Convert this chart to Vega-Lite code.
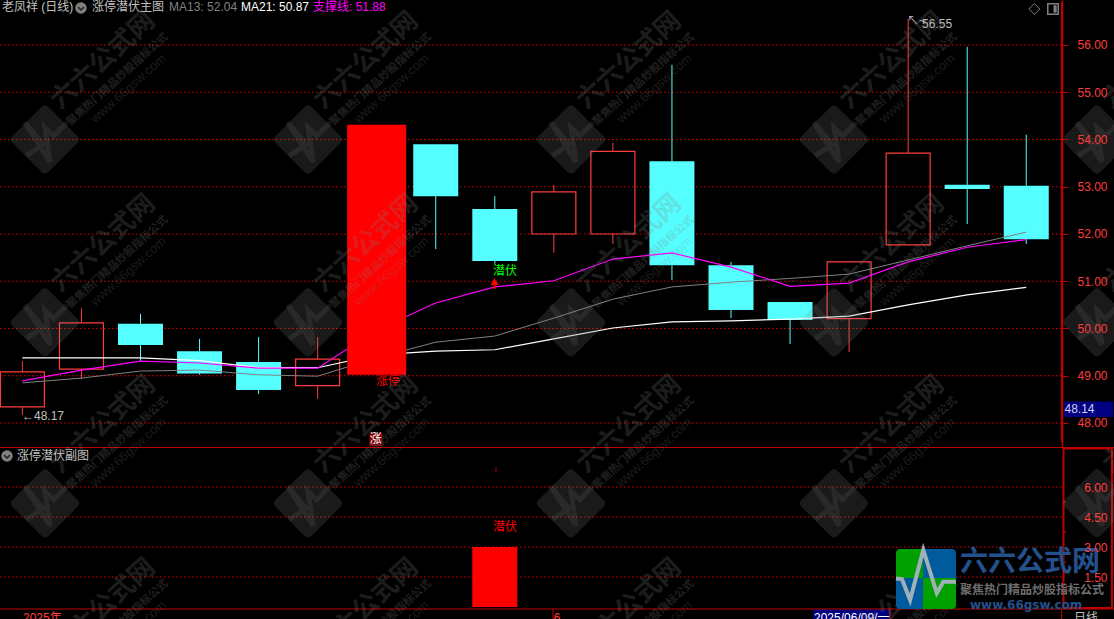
{
"$schema":"https://vega.github.io/schema/vega-lite/v6.json",
"width":1114,"height":619,"padding":0,"autosize":{"type":"none"},
"background":"#000000",
"config":{"view":{"stroke":null},"text":{"font":"Liberation Sans, Noto Sans CJK SC","fontSize":12}},
"datasets":{
"candles":[
{"i":0,"type":"up","top":49.08,"bot":48.34,"high":49.31,"low":48.17},
{"i":1,"type":"up","top":50.12,"bot":49.14,"high":50.43,"low":48.93},
{"i":2,"type":"down","top":50.10,"bot":49.65,"high":50.31,"low":49.31},
{"i":3,"type":"down","top":49.52,"bot":49.05,"high":49.78,"low":49.02},
{"i":4,"type":"down","top":49.29,"bot":48.70,"high":49.82,"low":48.61},
{"i":5,"type":"up","top":49.35,"bot":48.79,"high":49.82,"low":48.51},
{"i":6,"type":"limit","top":54.31,"bot":49.02,"high":54.31,"low":49.02},
{"i":7,"type":"down","top":53.90,"bot":52.80,"high":53.90,"low":51.68},
{"i":8,"type":"down","top":52.53,"bot":51.43,"high":52.80,"low":51.37},
{"i":9,"type":"up","top":52.89,"bot":52.00,"high":53.04,"low":51.60},
{"i":10,"type":"up","top":53.75,"bot":52.00,"high":53.93,"low":51.79},
{"i":11,"type":"down","top":53.54,"bot":51.34,"high":55.58,"low":51.03},
{"i":12,"type":"down","top":51.34,"bot":50.39,"high":51.41,"low":50.22},
{"i":13,"type":"down","top":50.56,"bot":50.18,"high":50.56,"low":49.67},
{"i":14,"type":"up","top":51.41,"bot":50.21,"high":51.41,"low":49.50},
{"i":15,"type":"up","top":53.71,"bot":51.77,"high":56.55,"low":51.77},
{"i":16,"type":"down","top":53.04,"bot":52.95,"high":55.96,"low":52.21},
{"i":17,"type":"down","top":53.02,"bot":51.89,"high":54.10,"low":51.79}
],
"lines":[
{"i":0,"s":"MA21","p":49.38},{"i":1,"s":"MA21","p":49.38},{"i":2,"s":"MA21","p":49.38},{"i":3,"s":"MA21","p":49.32},{"i":4,"s":"MA21","p":49.17},{"i":5,"s":"MA21","p":49.17},{"i":6,"s":"MA21","p":49.44},{"i":7,"s":"MA21","p":49.52},{"i":8,"s":"MA21","p":49.55},{"i":9,"s":"MA21","p":49.78},{"i":10,"s":"MA21","p":50.01},{"i":11,"s":"MA21","p":50.14},{"i":12,"s":"MA21","p":50.16},{"i":13,"s":"MA21","p":50.20},{"i":14,"s":"MA21","p":50.26},{"i":15,"s":"MA21","p":50.50},{"i":16,"s":"MA21","p":50.71},{"i":17,"s":"MA21","p":50.87},
{"i":0,"s":"MA13","p":48.85},{"i":1,"s":"MA13","p":48.95},{"i":2,"s":"MA13","p":49.10},{"i":3,"s":"MA13","p":49.12},{"i":4,"s":"MA13","p":49.02},{"i":5,"s":"MA13","p":48.99},{"i":6,"s":"MA13","p":49.38},{"i":7,"s":"MA13","p":49.71},{"i":8,"s":"MA13","p":49.84},{"i":9,"s":"MA13","p":50.22},{"i":10,"s":"MA13","p":50.62},{"i":11,"s":"MA13","p":50.88},{"i":12,"s":"MA13","p":50.98},{"i":13,"s":"MA13","p":51.06},{"i":14,"s":"MA13","p":51.15},{"i":15,"s":"MA13","p":51.45},{"i":16,"s":"MA13","p":51.75},{"i":17,"s":"MA13","p":52.04},
{"i":0,"s":"support","p":48.89},{"i":1,"s":"support","p":49.12},{"i":2,"s":"support","p":49.31},{"i":3,"s":"support","p":49.27},{"i":4,"s":"support","p":49.16},{"i":5,"s":"support","p":49.16},{"i":6,"s":"support","p":49.97},{"i":7,"s":"support","p":50.54},{"i":8,"s":"support","p":50.88},{"i":9,"s":"support","p":51.01},{"i":10,"s":"support","p":51.47},{"i":11,"s":"support","p":51.60},{"i":12,"s":"support","p":51.30},{"i":13,"s":"support","p":50.89},{"i":14,"s":"support","p":50.96},{"i":15,"s":"support","p":51.41},{"i":16,"s":"support","p":51.72},{"i":17,"s":"support","p":51.88}
],
"mainGrid":[
{"i":-0.3793,"i2":17.605,"p":56},{"i":-0.3793,"i2":17.605,"p":55},{"i":-0.3793,"i2":17.605,"p":54},{"i":-0.3793,"i2":17.605,"p":53},{"i":-0.3793,"i2":17.605,"p":52},{"i":-0.3793,"i2":17.605,"p":51},{"i":-0.3793,"i2":17.605,"p":50},{"i":-0.3793,"i2":17.605,"p":49},{"i":-0.3793,"i2":17.605,"p":48}
],
"subGrid":[
{"i":-0.3793,"i2":17.605,"v":6},{"i":-0.3793,"i2":17.605,"v":4.5},{"i":-0.3793,"i2":17.605,"v":3},{"i":-0.3793,"i2":17.605,"v":1.5}
],
"mainText":[
{"i":-0.345,"p":56.804,"k":"label","t":"老凤祥 (日线)"},
{"i":1.179,"p":56.804,"k":"label","t":"涨停潜伏主图"},
{"i":2.483,"p":56.804,"k":"ma13","t":"MA13: 52.04"},
{"i":3.702,"p":56.804,"k":"ma21","t":"MA21: 50.87"},
{"i":4.921,"p":56.804,"k":"support","t":"支撑线: 51.88"},
{"i":-0.091,"p":47.302,"k":"label","t":"涨停潜伏副图"},
{"i":-0.007,"p":48.148,"k":"label","t":"←48.17"},
{"i":14.981,"p":56.5,"k":"label","t":"↖~"},
{"i":15.235,"p":56.444,"k":"label","t":"56.55"},
{"i":5.988,"p":48.889,"k":"red","t":"涨停"},
{"i":7.969,"p":51.217,"k":"green","t":"潜伏"}
],
"subText":[
{"i":7.969,"v":4.0,"k":"red","t":"潜伏"},
{"i":0.01,"v":-0.55,"k":"axisred","t":"2025年"},
{"i":9.0,"v":-0.55,"k":"axisred","t":"6"},
{"i":13.406,"v":-0.55,"k":"ma21","t":"2025/06/09/一"},
{"i":17.81,"v":-0.55,"k":"label","t":"日线"}
],
"subRules":[
{"i":-0.3793,"i2":18.486,"v":-0.1,"v2":-0.1},
{"i":8.986,"i2":8.986,"v":-0.1,"v2":-0.6},
{"i":14.69,"i2":14.69,"v":-0.1,"v2":-0.6},
{"i":17.6,"i2":17.6,"v":-0.1,"v2":-0.6},
{"i":8.02,"i2":8.02,"v":7.0,"v2":6.75},
{"i":17.62,"i2":17.68,"v":5.25,"v2":5.25},
{"i":17.62,"i2":17.68,"v":3.75,"v2":3.75},
{"i":17.62,"i2":17.68,"v":2.25,"v2":2.25}
],
"marks2":[{"i":7.995,"p":50.995}],
"tag":[{"i":5.983,"p":47.651,"t":"涨"}],
"icons":[{"i":0.992,"p":56.783},{"i":-0.261,"p":47.302}],
"watermark":[
{"i":0.383,"p":54.0},{"i":4.837,"p":54.0},{"i":9.29,"p":54.0},{"i":13.744,"p":54.0},{"i":18.198,"p":54.0},
{"i":0.383,"p":50.13},{"i":4.837,"p":50.13},{"i":9.29,"p":50.13},{"i":13.744,"p":50.13},{"i":18.198,"p":50.13},
{"i":0.383,"p":46.30},{"i":4.837,"p":46.30},{"i":9.29,"p":46.30},{"i":13.744,"p":46.30},{"i":18.198,"p":46.30},
{"i":0.383,"p":42.43},{"i":4.837,"p":42.43},{"i":9.29,"p":42.43},{"i":13.744,"p":42.43},{"i":18.198,"p":42.43}
],
"logo":[{"i":15.302,"p":44.698}],
"logoText":[
{"i":15.878,"p":45.037,"t":"六六公式网"}
]
},
"encoding":{"x":{"field":"i","type":"quantitative","scale":{"domain":[-0.3793,18.486],"range":[0,1114],"nice":false,"zero":false,"padding":0},"axis":null}},
"resolve":{"scale":{"y":"independent"},"axis":{"y":"independent"}},
"layer":[
{
"encoding":{"y":{"field":"v","type":"quantitative","scale":{"domain":[-0.6,8],"range":[619,447],"nice":false,"zero":false},
 "axis":{"orient":"right","offset":-52,"values":[1.5,3,4.5,6],"format":".2f","title":null,"grid":false,"domain":false,"ticks":false,"labelColor":"#ff3c3c","labelAlign":"right","labelPadding":45,"labelFont":"Liberation Sans","labelFontSize":12,"labelOverlap":false,"labelFlush":false,"labelBound":false,"zindex":1}}},
"layer":[
{"data":{"name":"subGrid"},"mark":{"type":"rule","color":"#e00000","strokeDash":[1.5,2.5],"strokeWidth":1},"encoding":{"x2":{"field":"i2"}}},
{"data":{"values":[{"i":13.39,"i2":14.69,"v":-0.12,"v2":-0.6}]},"mark":{"type":"rect","fill":"#000080"},"encoding":{"x2":{"field":"i2"},"y2":{"field":"v2"}}},
{"data":{"name":"subRules"},"mark":{"type":"rule","color":"#c00000","strokeWidth":1},"encoding":{"x2":{"field":"i2"},"y2":{"field":"v2"}}},
{"data":{"values":[{"i":8,"v":3,"v2":0}]},"mark":{"type":"bar","size":45,"color":"#ff0000","orient":"vertical"},"encoding":{"y2":{"field":"v2"}}},
{"data":{"values":[{"i":17.631,"i2":18.452,"v":7.925,"v2":-0.05}]},"mark":{"type":"rect","fill":"transparent","stroke":"#c00000","strokeWidth":2},"encoding":{"x2":{"field":"i2"},"y2":{"field":"v2"}}},
{"data":{"name":"subText"},"mark":{"type":"text","align":"left","baseline":"middle"},"encoding":{"text":{"field":"t"},"color":{"field":"k","type":"nominal","legend":null,"scale":{"domain":["label","ma13","ma21","support","red","green","axisred","up","down"],"range":["#c0c0c0","#808080","#ffffff","#ff00ff","#ff0000","#00ff00","#ff3c3c","#ff3c3c","#55ffff"]}}}}
]
},
{
"encoding":{"y":{"field":"p","type":"quantitative","scale":{"domain":[47.492,56.952],"range":[447,0],"nice":false,"zero":false},
 "axis":{"orient":"right","offset":-52,"values":[48,49,50,51,52,53,54,55,56],"format":".2f","title":null,"grid":false,"domainColor":"#c00000","domainWidth":1.5,"tickColor":"#c00000","tickSize":6,"labelColor":"#ff3c3c","labelAlign":"right","labelPadding":39,"labelFont":"Liberation Sans","labelFontSize":12,"labelOverlap":false,"labelFlush":false,"labelBound":false,"zindex":1}}},
"layer":[
{"data":{"name":"mainGrid"},"mark":{"type":"rule","color":"#e00000","strokeDash":[1.5,2.5],"strokeWidth":1},"encoding":{"x2":{"field":"i2"}}},
{"data":{"values":[{"i":-0.3793,"i2":18.486,"p":47.481}]},"mark":{"type":"rule","color":"#c00000","strokeWidth":1},"encoding":{"x2":{"field":"i2"}}},
{"data":{"values":[{"i":17.6,"p":56.9,"p2":47.6}]},"mark":{"type":"rule","color":"#c00000","strokeWidth":1.5},"encoding":{"y2":{"field":"p2"}}},
{"data":{"name":"candles"},"transform":[{"filter":"datum.type!='limit'"}],"mark":{"type":"rule","strokeWidth":1},"encoding":{
 "y":{"field":"high","type":"quantitative","scale":{"domain":[47.492,56.952],"range":[447,0],"nice":false,"zero":false},"axis":{"orient":"right","offset":-52,"values":[48,49,50,51,52,53,54,55,56],"format":".2f","title":null,"grid":false,"domainColor":"#c00000","domainWidth":1.5,"tickColor":"#c00000","tickSize":6,"labelColor":"#ff3c3c","labelAlign":"right","labelPadding":39,"labelFont":"Liberation Sans","labelFontSize":12,"labelOverlap":false,"labelFlush":false,"labelBound":false,"zindex":1}},"y2":{"field":"top"},
 "color":{"field":"type","type":"nominal","legend":null,"scale":{"domain":["label","ma13","ma21","support","red","green","axisred","up","down"],"range":["#c0c0c0","#808080","#ffffff","#ff00ff","#ff0000","#00ff00","#ff3c3c","#ff3c3c","#55ffff"]}}}},
{"data":{"name":"candles"},"transform":[{"filter":"datum.type!='limit'"}],"mark":{"type":"rule","strokeWidth":1},"encoding":{
 "y":{"field":"bot","type":"quantitative","scale":{"domain":[47.492,56.952],"range":[447,0],"nice":false,"zero":false},"axis":{"orient":"right","offset":-52,"values":[48,49,50,51,52,53,54,55,56],"format":".2f","title":null,"grid":false,"domainColor":"#c00000","domainWidth":1.5,"tickColor":"#c00000","tickSize":6,"labelColor":"#ff3c3c","labelAlign":"right","labelPadding":39,"labelFont":"Liberation Sans","labelFontSize":12,"labelOverlap":false,"labelFlush":false,"labelBound":false,"zindex":1}},"y2":{"field":"low"},
 "color":{"field":"type","type":"nominal","legend":null,"scale":{"domain":["label","ma13","ma21","support","red","green","axisred","up","down"],"range":["#c0c0c0","#808080","#ffffff","#ff00ff","#ff0000","#00ff00","#ff3c3c","#ff3c3c","#55ffff"]}}}},
{"data":{"name":"candles"},"transform":[{"filter":"datum.type=='down'"}],"mark":{"type":"bar","size":45,"color":"#55ffff","orient":"vertical"},"encoding":{
 "y":{"field":"top","type":"quantitative","scale":{"domain":[47.492,56.952],"range":[447,0],"nice":false,"zero":false},"axis":{"orient":"right","offset":-52,"values":[48,49,50,51,52,53,54,55,56],"format":".2f","title":null,"grid":false,"domainColor":"#c00000","domainWidth":1.5,"tickColor":"#c00000","tickSize":6,"labelColor":"#ff3c3c","labelAlign":"right","labelPadding":39,"labelFont":"Liberation Sans","labelFontSize":12,"labelOverlap":false,"labelFlush":false,"labelBound":false,"zindex":1}},"y2":{"field":"bot"}}},
{"data":{"name":"candles"},"transform":[{"filter":"datum.type=='up'"}],"mark":{"type":"bar","size":44,"fill":"transparent","stroke":"#ff3c3c","strokeWidth":1.2,"orient":"vertical"},"encoding":{
 "y":{"field":"top","type":"quantitative","scale":{"domain":[47.492,56.952],"range":[447,0],"nice":false,"zero":false},"axis":{"orient":"right","offset":-52,"values":[48,49,50,51,52,53,54,55,56],"format":".2f","title":null,"grid":false,"domainColor":"#c00000","domainWidth":1.5,"tickColor":"#c00000","tickSize":6,"labelColor":"#ff3c3c","labelAlign":"right","labelPadding":39,"labelFont":"Liberation Sans","labelFontSize":12,"labelOverlap":false,"labelFlush":false,"labelBound":false,"zindex":1}},"y2":{"field":"bot"}}},
{"data":{"name":"lines"},"transform":[{"filter":"datum.s=='MA13'"}],"mark":{"type":"line","color":"#808080","strokeWidth":1}},
{"data":{"name":"lines"},"transform":[{"filter":"datum.s=='MA21'"}],"mark":{"type":"line","color":"#ffffff","strokeWidth":1.2}},
{"data":{"name":"lines"},"transform":[{"filter":"datum.s=='support'"}],"mark":{"type":"line","color":"#ff00ff","strokeWidth":1.2}},
{"data":{"name":"mainText"},"mark":{"type":"text","align":"left","baseline":"middle"},"encoding":{"text":{"field":"t"},"color":{"field":"k","type":"nominal","legend":null,"scale":{"domain":["label","ma13","ma21","support","red","green","axisred","up","down"],"range":["#c0c0c0","#808080","#ffffff","#ff00ff","#ff0000","#00ff00","#ff3c3c","#ff3c3c","#55ffff"]}}}},
{"data":{"name":"candles"},"transform":[{"filter":"datum.type=='limit'"}],"mark":{"type":"bar","size":59,"color":"#ff0000","orient":"vertical"},"encoding":{
 "y":{"field":"top","type":"quantitative","scale":{"domain":[47.492,56.952],"range":[447,0],"nice":false,"zero":false},"axis":{"orient":"right","offset":-52,"values":[48,49,50,51,52,53,54,55,56],"format":".2f","title":null,"grid":false,"domainColor":"#c00000","domainWidth":1.5,"tickColor":"#c00000","tickSize":6,"labelColor":"#ff3c3c","labelAlign":"right","labelPadding":39,"labelFont":"Liberation Sans","labelFontSize":12,"labelOverlap":false,"labelFlush":false,"labelBound":false,"zindex":1}},"y2":{"field":"bot"}}},
{"data":{"name":"marks2"},"mark":{"type":"point","shape":"triangle-up","size":64,"filled":true,"fill":"#ff0000","opacity":1}},
{"data":{"values":[{"i":7.995,"p":50.942,"p2":50.836}]},"mark":{"type":"rule","color":"#ff0000","strokeWidth":2},"encoding":{"y2":{"field":"p2"}}},
{"data":{"name":"tag"},"mark":{"type":"point","shape":"square","size":169,"filled":true,"fill":"#800000","opacity":1}},
{"data":{"name":"tag"},"mark":{"type":"text","align":"center","baseline":"middle","color":"#ffffff"},"encoding":{"text":{"field":"t"}}},
{"data":{"name":"icons"},"mark":{"type":"point","shape":"circle","size":130,"filled":true,"fill":"#808080","opacity":1}},
{"data":{"name":"icons"},"mark":{"type":"point","shape":"M-0.5,-0.15L0,0.35L0.5,-0.15","size":130,"filled":false,"stroke":"#222222","strokeWidth":1.5,"opacity":1}},
{"data":{"values":[{"i":17.137,"p":56.762}]},"mark":{"type":"point","shape":"diamond","size":121,"filled":false,"stroke":"#808080","strokeWidth":1,"opacity":1}},
{"data":{"values":[{"i":17.453,"p":56.762}]},"mark":{"type":"point","shape":"square","size":110,"filled":false,"stroke":"#808080","strokeWidth":1.5,"opacity":1}},
{"data":{"values":[{"i":17.453,"p":56.762}]},"mark":{"type":"point","shape":"M0.1,-0.7L0.7,-0.7L0.7,0.7L0.1,0.7Z","size":110,"filled":true,"fill":"#808080","opacity":1}},
{"data":{"values":[{"i":17.64,"i2":18.47,"p":48.455,"p2":48.127}]},"mark":{"type":"rect","fill":"#000080"},"encoding":{"x2":{"field":"i2"},"y2":{"field":"p2"}}},
{"data":{"values":[{"i":17.648,"p":48.296,"t":"48.14"}]},"mark":{"type":"text","align":"left","baseline":"middle","color":"#d0d0f0"},"encoding":{"text":{"field":"t"}}},
{"data":{"name":"watermark"},"mark":{"type":"point","shape":"M-0.9,-0.1L-0.1,-0.9Q0,-1 0.1,-0.9L0.9,-0.1Q1,0 0.9,0.1L0.1,0.9Q0,1 -0.1,0.9L-0.9,0.1Q-1,0 -0.9,-0.1Z","size":5184,"filled":true,"fill":"#808080","opacity":0.2}},
{"data":{"name":"watermark"},"mark":{"type":"point","shape":"M-0.52,0.45L-0.05,0.14L-0.57,-0.48L0.14,0.62L0,-0.33L0.24,-0.1L0.62,-0.48","size":5184,"filled":false,"stroke":"#808080","strokeWidth":5,"opacity":0.15}},
{"data":{"name":"watermark"},"mark":{"type":"text","text":"六六公式网","font":"Noto Sans CJK SC","fontWeight":"bold","fontSize":26,"align":"center","baseline":"middle","angle":-42,"dx":96,"dy":-20,"color":"#808080","opacity":0.22}},
{"data":{"name":"watermark"},"mark":{"type":"text","text":"聚焦热门精品炒股指标公式","font":"Noto Sans CJK SC","fontWeight":"bold","fontSize":11,"align":"center","baseline":"middle","angle":-42,"dx":94,"dy":4,"color":"#808080","opacity":0.24}},
{"data":{"name":"watermark"},"mark":{"type":"text","text":"www.66gsw.com","font":"Liberation Sans","fontSize":13,"align":"center","baseline":"middle","angle":-42,"dx":96,"dy":18,"color":"#808080","opacity":0.2}},
{"data":{"name":"logo"},"mark":{"type":"point","shape":"M-1,-0.85Q-1,-1 -0.85,-1L-0.1,-1L-0.1,-0.03L-1,-0.03Z","size":3600,"filled":true,"fill":"#00a000","opacity":1}},
{"data":{"name":"logo"},"mark":{"type":"point","shape":"M-0.1,-1L0.85,-1Q1,-1 1,-0.85L1,-0.03L-0.1,-0.03Z","size":3600,"filled":true,"fill":"#005a9c","opacity":1}},
{"data":{"name":"logo"},"mark":{"type":"point","shape":"M-1,-0.03L-0.1,-0.03L-0.1,1L-0.85,1Q-1,1 -1,0.85Z","size":3600,"filled":true,"fill":"#005a9c","opacity":1}},
{"data":{"name":"logo"},"mark":{"type":"point","shape":"M-0.1,-0.03L1,-0.03L1,0.85Q1,1 0.85,1L-0.1,1Z","size":3600,"filled":true,"fill":"#00a000","opacity":1}},
{"data":{"name":"logo"},"mark":{"type":"point","shape":"M-1,-0.02L-0.8,0L-0.53,0.7L-0.09,-0.97L0.36,0.47L0.58,0.09L1,0.09","size":3600,"filled":false,"stroke":"#a0b0b8","strokeWidth":4,"opacity":1}},
{"data":{"name":"logoText"},"mark":{"type":"text","font":"Noto Sans CJK SC","fontWeight":"bold","fontSize":28,"align":"left","baseline":"middle","color":"#24508c"},"encoding":{"text":{"field":"t"}}},
{"data":{"values":[{"i":15.878,"p":44.466,"t":"聚焦热门精品炒股指标公式"}]},"mark":{"type":"text","font":"Noto Sans CJK SC","fontWeight":"bold","fontSize":12,"align":"left","baseline":"middle","color":"#6e6e6e"},"encoding":{"text":{"field":"t"}}},
{"data":{"values":[{"i":16.048,"p":44.148,"t":"www.66gsw.com"}]},"mark":{"type":"text","font":"DejaVu Sans","fontWeight":"bold","fontSize":12,"align":"left","baseline":"middle","color":"#24508c"},"encoding":{"text":{"field":"t"}}}
]
}
]
}
